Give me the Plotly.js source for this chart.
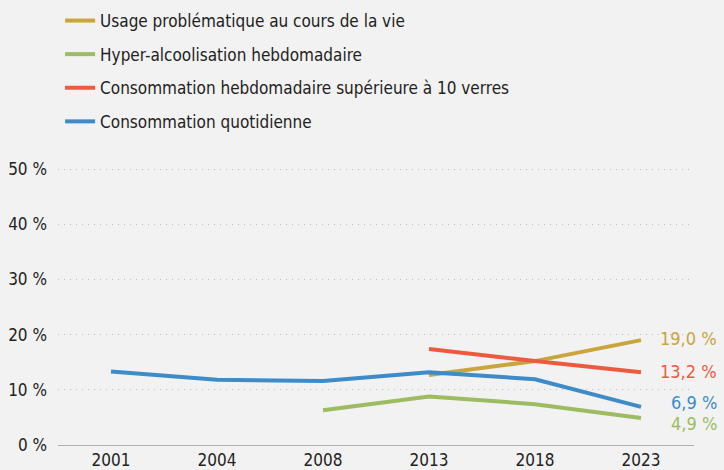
<!DOCTYPE html>
<html><head><meta charset="utf-8">
<script src="https://cdn.plot.ly/plotly-3.0.1.min.js"></script>
<style>html,body{margin:0;padding:0;background:#f2f2f2;}#chart{width:724px;height:470px;}</style>
</head><body><div id="chart"></div>
<script>
var years = ['2001','2004','2008','2013','2018','2023'];
var seriesNames = ['Usage problématique au cours de la vie','Hyper-alcoolisation hebdomadaire','Consommation hebdomadaire supérieure à 10 verres','Consommation quotidienne'];
var usage = [null, null, null, 12.7, 15.2, 19.0];
var hyper = [null, null, 6.3, 8.8, 7.4, 4.9];
var hebdo10 = [null, null, null, 17.4, 15.2, 13.2];
var quotidienne = [13.3, 11.8, 11.6, 13.2, 11.9, 6.9];
var yTicks = [0, 10, 20, 30, 40, 50];
var colors = ['#c9a53c','#9dbb61','#ee5a3e','#3d8bc7'];
var labelShift = [2, -6, 1, 4];

var FONT = '"DejaVu Sans Condensed", sans-serif';
var allSeries = [usage, hyper, hebdo10, quotidienne];
var traces = allSeries.map(function(vals, i){
  return {x: years, y: vals, type:'scatter', mode:'lines', name: seriesNames[i],
    legendgroup: 'g'+i, connectgaps:false,
    line:{color: colors[i], width:4, shape:'linear'}, hoverinfo:'skip'};
});
var annotations = allSeries.map(function(vals, i){
  var v = vals[vals.length-1];
  return {x: years.length-1, y: v, xref:'x', yref:'y', xanchor:'right', yanchor:'middle',
    xshift: 78, yshift: labelShift[i], showarrow:false, visible:true,
    text: v.toFixed(1).replace('.', ',') + ' %', font:{family:FONT, size:18, color: colors[i]}};
});
var layout = {
  width:724, height:470,
  paper_bgcolor:'#f2f2f2', plot_bgcolor:'#f2f2f2',
  margin:{l:58, r:30, t:167, b:25, autoexpand:false},
  font:{family:FONT, size:17, color:'#222'},
  showlegend:true,
  legend:{x:0.083, xref:'container', y:1 - 3/470, yref:'container', yanchor:'top', xanchor:'left',
    traceorder:'grouped', tracegroupgap:8.5, bgcolor:'rgba(0,0,0,0)',
    font:{family:FONT, size:17, color:'#222'}, itemwidth:30},
  xaxis:{type:'category', range:[-0.5,5.5], showgrid:false, zeroline:false, automargin:false,
    showline:true, linecolor:'#b0b0b0', linewidth:1, ticks:'', fixedrange:true,
    tickfont:{family:FONT, size:17, color:'#222'}},
  yaxis:{range:[0,50.362], tickmode:'array', tickvals:yTicks,
    ticktext: yTicks.map(function(t){ return t + ' %'; }),
    showgrid:true, gridcolor:'#bbbbbb', automargin:false,
    griddash:'1px,5px', gridwidth:1, zeroline:false, showline:false, ticks:'', ticklabelstandoff:10,
    tickfont:{family:FONT, size:17, color:'#222'}},
  annotations: annotations
};
Plotly.newPlot('chart', traces, layout, {displayModeBar:false, staticPlot:true});
</script></body></html>
